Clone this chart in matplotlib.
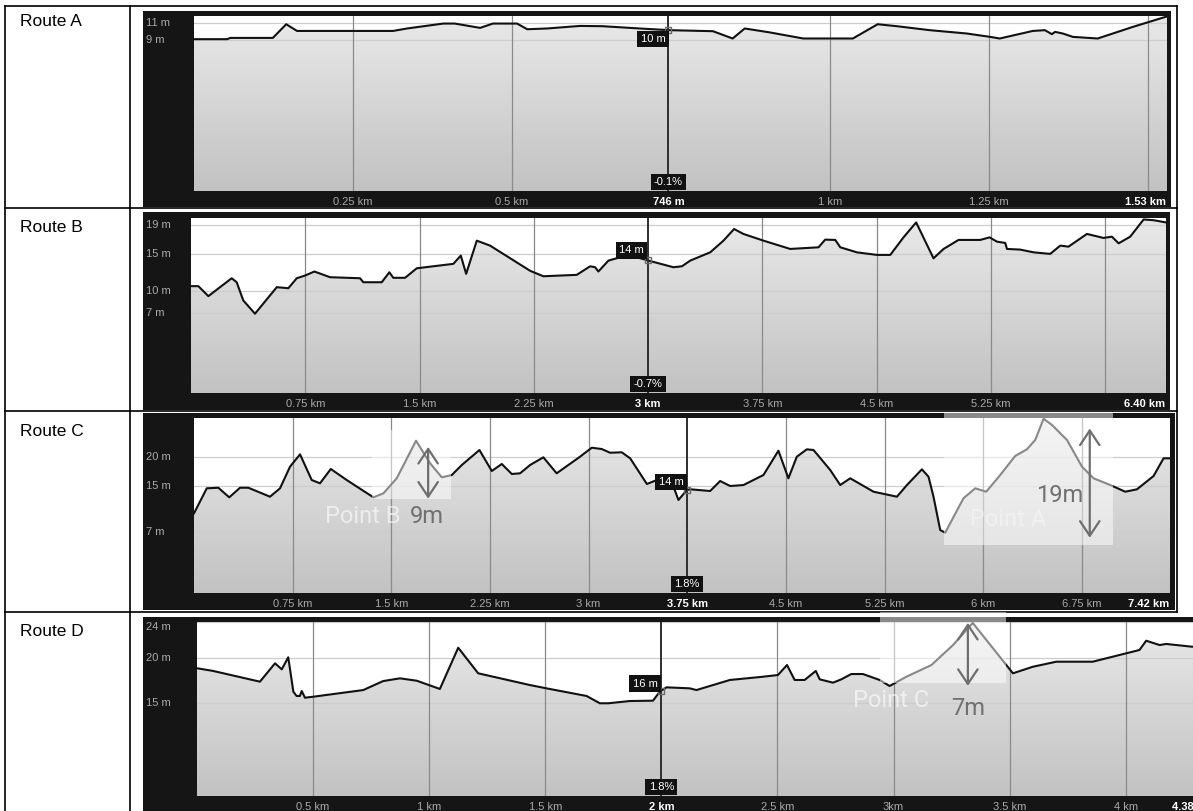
import numpy as np
import matplotlib
matplotlib.use("Agg")
import matplotlib.pyplot as plt
from matplotlib.colors import LinearSegmentedColormap
from matplotlib.patches import Polygon, Rectangle
from matplotlib.lines import Line2D
from matplotlib.transforms import blended_transform_factory

# ---------------------------------------------------------------- data
route_names = ["Route A", "Route B", "Route C", "Route D"]

route_a_km = [0.000, 0.052, 0.057, 0.124, 0.145, 0.162, 0.214, 0.313, 0.335, 0.392,
              0.410, 0.450, 0.470, 0.508, 0.524, 0.555, 0.607, 0.642, 0.701, 0.748,
              0.816, 0.847, 0.866, 0.906, 0.958, 1.036, 1.075, 1.105, 1.157, 1.215,
              1.252, 1.267, 1.319, 1.338, 1.349, 1.354, 1.366, 1.382, 1.421, 1.476,
              1.530]
route_a_elev = [9.12, 9.12, 9.27, 9.27, 10.88, 10.09, 10.09, 10.09, 10.38, 10.96,
                10.96, 10.45, 10.96, 10.96, 10.29, 10.38, 10.68, 10.65, 10.38, 10.18,
                10.06, 9.20, 10.38, 9.91, 9.20, 9.20, 10.88, 10.65, 10.18, 9.79,
                9.39, 9.20, 10.09, 10.18, 9.71, 9.98, 9.79, 9.39, 9.20, 10.56,
                11.80]

route_b_km = [0.000, 0.048, 0.114, 0.267, 0.300, 0.343, 0.420, 0.563, 0.639, 0.694,
              0.749, 0.810, 0.913, 1.110, 1.131, 1.252, 1.302, 1.328, 1.405, 1.482,
              1.722, 1.771, 1.806, 1.876, 1.963, 2.226, 2.313, 2.532, 2.620, 2.653,
              2.674, 2.740, 2.839, 2.904, 3.003, 3.167, 3.222, 3.277, 3.408, 3.495,
              3.565, 3.626, 3.758, 3.933, 4.119, 4.163, 4.229, 4.262, 4.371, 4.502,
              4.590, 4.677, 4.760, 4.874, 4.940, 5.038, 5.181, 5.242, 5.290, 5.345,
              5.356, 5.443, 5.531, 5.640, 5.706, 5.760, 5.881, 5.990, 6.045, 6.089,
              6.165, 6.253, 6.319, 6.400]
route_b_elev = [10.67, 10.67, 9.32, 11.74, 11.20, 8.74, 6.94, 10.53, 10.39, 11.74,
                12.11, 12.65, 11.88, 11.74, 11.20, 11.20, 12.55, 11.80, 11.80, 13.09,
                13.69, 14.81, 12.34, 16.83, 16.16, 12.75, 12.01, 12.20, 13.36, 13.23,
                12.65, 14.13, 14.71, 14.71, 14.13, 13.23, 13.36, 14.13, 15.25, 16.83,
                18.41, 17.74, 16.83, 15.71, 15.93, 16.97, 16.93, 15.93, 15.25, 14.90,
                14.90, 17.28, 19.30, 14.44, 15.71, 16.93, 16.93, 17.28, 16.70, 16.52,
                15.71, 15.62, 15.25, 15.04, 16.16, 16.02, 17.74, 17.20, 17.37, 16.47,
                17.37, 19.70, 19.60, 19.30]

route_c_km = [0.000, 0.097, 0.185, 0.268, 0.350, 0.413, 0.578, 0.654, 0.730, 0.806,
              0.895, 0.958, 1.040, 1.161, 1.364, 1.440, 1.541, 1.688, 1.795, 1.884,
              1.960, 2.036, 2.170, 2.264, 2.340, 2.416, 2.479, 2.555, 2.656, 2.757,
              2.935, 3.024, 3.100, 3.163, 3.252, 3.316, 3.443, 3.519, 3.650, 3.683,
              3.747, 3.772, 3.924, 4.000, 4.076, 4.177, 4.329, 4.443, 4.519, 4.583,
              4.659, 4.710, 4.837, 4.913, 4.989, 5.166, 5.344, 5.420, 5.534, 5.584,
              5.622, 5.673, 5.711, 5.762, 5.850, 5.939, 6.023, 6.129, 6.243, 6.332,
              6.395, 6.459, 6.523, 6.637, 6.751, 6.839, 6.966, 7.080, 7.169, 7.295,
              7.371, 7.420]
route_c_elev = [10.25, 14.60, 14.70, 13.03, 14.70, 14.70, 13.14, 14.60, 18.36, 20.51,
                16.04, 15.47, 17.96, 16.04, 13.03, 13.73, 16.34, 22.88, 18.95, 16.51,
                16.91, 18.65, 21.26, 17.61, 18.83, 17.09, 17.21, 18.65, 19.99, 17.21,
                20.10, 21.66, 21.43, 20.79, 20.86, 19.82, 15.35, 16.04, 14.60, 12.57,
                14.30, 14.43, 14.13, 15.87, 15.00, 15.17, 16.91, 21.14, 16.34, 20.10,
                21.38, 21.26, 17.78, 15.17, 16.34, 14.01, 13.14, 15.17, 17.90, 16.62,
                13.14, 7.35, 6.88, 9.09, 12.86, 14.60, 14.01, 16.91, 20.22, 21.38,
                23.00, 26.70, 25.61, 23.00, 18.36, 16.34, 15.17, 14.01, 14.43, 16.74,
                19.82, 19.82]

route_d_km = [0.000, 0.070, 0.271, 0.336, 0.365, 0.393, 0.415, 0.429, 0.443, 0.451,
              0.465, 0.501, 0.716, 0.802, 0.874, 0.946, 1.046, 1.125, 1.211, 1.433,
              1.505, 1.678, 1.735, 1.771, 1.864, 1.964, 1.993, 2.022, 2.122, 2.151,
              2.295, 2.438, 2.502, 2.541, 2.574, 2.617, 2.665, 2.682, 2.739, 2.775,
              2.818, 2.868, 2.940, 2.983, 3.055, 3.163, 3.256, 3.341, 3.514, 3.600,
              3.701, 3.858, 4.059, 4.088, 4.146, 4.174, 4.283, 4.380]
route_d_elev = [18.86, 18.56, 17.37, 19.41, 18.74, 20.08, 16.26, 15.78, 15.78, 16.33,
                15.59, 15.70, 16.44, 17.44, 17.74, 17.48, 16.56, 21.14, 18.30, 17.00,
                16.63, 15.78, 14.97, 14.97, 15.22, 15.26, 16.26, 16.74, 16.63, 16.44,
                17.56, 17.92, 18.11, 19.22, 17.56, 17.56, 18.56, 17.63, 17.26, 17.63,
                18.22, 18.22, 17.56, 16.89, 17.92, 19.22, 21.44, 23.90, 18.30, 19.03,
                19.59, 19.59, 20.89, 21.92, 21.44, 21.56, 21.26, 21.20]

# distance gridlines, labelled distance ticks and totals
route_a_grid_km = [0.25, 0.5, 1.0, 1.25, 1.5]
route_a_tick_km = [0.25, 0.5, 1.0, 1.25]
route_a_tick_labels = ["0.25 km", "0.5 km", "1 km", "1.25 km"]
route_b_grid_km = [0.75, 1.5, 2.25, 3.75, 4.5, 5.25, 6.0]
route_b_tick_km = [0.75, 1.5, 2.25, 3.75, 4.5, 5.25]
route_b_tick_labels = ["0.75 km", "1.5 km", "2.25 km", "3.75 km", "4.5 km", "5.25 km"]
route_c_grid_km = [0.75, 1.5, 2.25, 3.0, 4.5, 5.25, 6.0, 6.75]
route_c_tick_km = [0.75, 1.5, 2.25, 3.0, 4.5, 5.25, 6.0, 6.75]
route_c_tick_labels = ["0.75 km", "1.5 km", "2.25 km", "3 km", "4.5 km", "5.25 km",
                       "6 km", "6.75 km"]
route_d_grid_km = [0.5, 1.0, 1.5, 2.5, 3.0, 3.5, 4.0]
route_d_tick_km = [0.5, 1.0, 1.5, 2.5, 3.0, 3.5, 4.0]
route_d_tick_labels = ["0.5 km", "1 km", "1.5 km", "2.5 km", "3km", "3.5 km", "4 km"]

total_km = [1.53, 6.40, 7.42, 4.38]
total_labels = ["1.53 km", "6.40 km", "7.42 km", "4.38 km"]

# elevation ticks (m) and visible elevation range
route_a_yticks = [9, 11]
route_b_yticks = [7, 10, 15, 19]
route_c_yticks = [7, 15, 20]
route_d_yticks = [15, 20, 24]
elev_ranges = [(-8.76, 11.85), (-3.8, 19.9), (-3.61, 26.83), (4.67, 24.0)]

# cursor readouts
cursor_km = [0.746, 3.0, 3.75, 2.0]
cursor_labels = ["746 m", "3 km", "3.75 km", "2 km"]
cursor_grades = ["-0.1%", "-0.7%", "1.8%", "1.8%"]

# climbs marked on routes C and D: (route index, name, rise m)
climb_route = [2, 2, 3]
climb_names = ["Point B", "Point A", "Point C"]
climb_rise = [9, 19, 7]

routes_km = [route_a_km, route_b_km, route_c_km, route_d_km]
routes_elev = [route_a_elev, route_b_elev, route_c_elev, route_d_elev]
routes_grid = [route_a_grid_km, route_b_grid_km, route_c_grid_km, route_d_grid_km]
routes_tick = [route_a_tick_km, route_b_tick_km, route_c_tick_km, route_d_tick_km]
routes_tick_labels = [route_a_tick_labels, route_b_tick_labels, route_c_tick_labels,
                      route_d_tick_labels]
routes_yticks = [route_a_yticks, route_b_yticks, route_c_yticks, route_d_yticks]

# ---------------------------------------------------------------- layout (pixels)
W, H = 1193, 811
frame_px = [(143, 11, 1171, 207), (143, 212, 1170, 410),
            (143, 413, 1175, 610), (143, 617, 1260, 811)]
plot_px = [(194, 16, 1167, 191), (191, 218, 1166, 393),
           (194, 418, 1170, 593), (197, 622, 1214, 796)]
label_y_px = [22, 228, 432, 632]
readout_offset = [(-3, -4, "top"), (-4, 5, "bottom"), (-4, 3, "bottom"), (-4, 2, "bottom")]

# highlight boxes (km0, km1, m0, m1), arrow (km, base m), value text (km, m, ha),
# name text (km, m, ha)
climb_box = [(1.354, 1.954, 12.74, 24.74), (5.703, 6.989, 4.74, 27.7),
             (2.940, 3.483, 17.22, 25.1)]
climb_arrow = [(1.78, 12.8), (6.81, 6.0), (3.32, 16.9)]
climb_value_pos = [(1.64, 9.78, "left"), (6.76, 13.43, "right"), (3.25, 14.44, "left")]
climb_name_pos = [(1.57, 9.78, "right"), (6.19, 9.09, "center"), (3.155, 15.33, "right")]
climb_name_alpha = [0.6, 0.35, 0.6]

FRAME = "#151515"
TICK_GREY = "#a9a9a9"
plt.rcParams["font.family"] = ["Liberation Sans", "DejaVu Sans"]


def fig_rect(box):
    x0, y0, x1, y1 = box
    return [x0 / W, 1 - y1 / H, (x1 - x0) / W, (y1 - y0) / H]


fig = plt.figure(figsize=(W / 100, H / 100), dpi=100)
fig.patch.set_facecolor("white")

# table rules
def hline(y, x0, x1):
    fig.add_artist(Line2D([x0 / W, x1 / W], [1 - y / H, 1 - y / H],
                          transform=fig.transFigure, color="black", lw=1.2))


def vline(x, y0, y1):
    fig.add_artist(Line2D([x / W, x / W], [1 - y0 / H, 1 - y1 / H],
                          transform=fig.transFigure, color="black", lw=1.2))


for y in (6, 208, 411, 612):
    hline(y, 5, 1177)
vline(5, 6, 811)
vline(130, 6, 811)
vline(1177, 6, 612)

for name, ly in zip(route_names, label_y_px):
    fig.text(20 / W, 1 - ly / H, name, fontsize=12.5, ha="left", va="center",
             color="black")

fill_cmap = LinearSegmentedColormap.from_list("fill", ["#c2c2c2", "#e9e9e9"])
plot_axes = []

for i in range(4):
    km = np.asarray(routes_km[i], dtype=float)
    elev = np.asarray(routes_elev[i], dtype=float)
    ymin, ymax = elev_ranges[i]
    xmax = total_km[i]

    frame = fig.add_axes(fig_rect(frame_px[i]), zorder=1)
    frame.set_facecolor(FRAME)
    frame.set_xticks([])
    frame.set_yticks([])
    for s in frame.spines.values():
        s.set_visible(False)

    ax = fig.add_axes(fig_rect(plot_px[i]), zorder=2)
    plot_axes.append(ax)
    ax.set_facecolor("white")
    for s in ax.spines.values():
        s.set_visible(False)
    ax.set_xticks([])
    ax.set_yticks([])

    # gradient fill under the profile
    grad = np.linspace(0, 1, 256).reshape(-1, 1)
    im = ax.imshow(grad, extent=[0, xmax, ymin, ymax], origin="lower",
                   aspect="auto", cmap=fill_cmap, zorder=1)
    verts = [(km[0], ymin)] + list(zip(km, elev)) + [(km[-1], ymin)]
    clip = Polygon(verts, closed=True, fc="none", ec="none")
    ax.add_patch(clip)
    im.set_clip_path(clip)

    # grid
    for yt in routes_yticks[i]:
        ax.axhline(yt, color="#cdcdcd", lw=0.9, zorder=2)
    for xg in routes_grid[i]:
        ax.axvline(xg, color="#8a8a8a", lw=0.9, zorder=3)

    ax.plot(km, elev, color="#111111", lw=1.5, zorder=5, solid_joinstyle="round")
    ax.set_xlim(0, xmax)
    ax.set_ylim(ymin, ymax)

    # distance labels on the dark strip
    bt = blended_transform_factory(ax.transData, ax.transAxes)
    for xt, lab in zip(routes_tick[i], routes_tick_labels[i]):
        ax.annotate(lab, xy=(xt, 0), xycoords=bt, xytext=(0, -11),
                    textcoords="offset pixels", ha="center", va="center",
                    fontsize=8, color=TICK_GREY, annotation_clip=False)
    ax.annotate(total_labels[i], xy=(xmax, 0), xycoords=bt, xytext=(-1, -11),
                textcoords="offset pixels", ha="right", va="center",
                fontsize=8, color="white", fontweight="bold", annotation_clip=False)

    # elevation labels on the dark strip
    lt = blended_transform_factory(fig.transFigure, ax.transData)
    for yt in routes_yticks[i]:
        va = "top" if yt >= ymax - 0.3 else "center"
        ax.text(146 / W, yt, f"{yt} m", transform=lt, fontsize=8, color=TICK_GREY,
                ha="left", va=va)

    # cursor
    cx = cursor_km[i]
    cy = float(np.interp(cx, km, elev))
    ax.axvline(cx, color="#2e2e2e", lw=1.4, zorder=7)
    ax.plot([cx], [cy], marker="s", ms=5, mfc="none", mec="#6a6a6a", mew=1,
            zorder=8)
    dx, dy, va = readout_offset[i]
    ax.annotate(f"{round(cy)} m", xy=(cx, cy), xytext=(dx, dy),
                textcoords="offset pixels", ha="right", va=va, fontsize=8,
                color="white", zorder=9,
                bbox=dict(boxstyle="square,pad=0.3", fc="#111111", ec="none"))
    ax.annotate(cursor_grades[i], xy=(cx, 0), xycoords=bt, xytext=(0, 4),
                textcoords="offset pixels", ha="center", va="bottom", fontsize=8,
                color="white", zorder=9,
                bbox=dict(boxstyle="square,pad=0.3", fc="#111111", ec="none"))
    ax.annotate(cursor_labels[i], xy=(cx, 0), xycoords=bt, xytext=(0, -11),
                textcoords="offset pixels", ha="center", va="center",
                fontsize=8, color="white", fontweight="bold", annotation_clip=False)

# marked climbs
for j in range(len(climb_names)):
    ax = plot_axes[climb_route[j]]
    x0, x1, y0, y1 = climb_box[j]
    ax.add_patch(Rectangle((x0, y0), x1 - x0, y1 - y0, fc="white", ec="none",
                           alpha=0.5, zorder=6, clip_on=False))
    axx, base = climb_arrow[j]
    ax.annotate("", xy=(axx, base + climb_rise[j]), xytext=(axx, base),
                arrowprops=dict(arrowstyle="<->,head_length=0.75,head_width=0.5",
                                color="#6e6e6e", lw=1.6, shrinkA=0, shrinkB=0,
                                mutation_scale=14),
                annotation_clip=False, zorder=10)
    vx, vy, vha = climb_value_pos[j]
    ax.text(vx, vy, f"{climb_rise[j]}m", fontsize=17, color="#707070", ha=vha,
            va="center", family=["Roboto", "DejaVu Sans"], zorder=10, clip_on=False)
    nx, ny, nha = climb_name_pos[j]
    ax.text(nx, ny, climb_names[j], fontsize=17, color="white",
            alpha=climb_name_alpha[j], ha=nha, va="center",
            family=["Roboto", "DejaVu Sans"], zorder=10, clip_on=False)

fig.savefig("out.png", dpi=100, facecolor="white")
